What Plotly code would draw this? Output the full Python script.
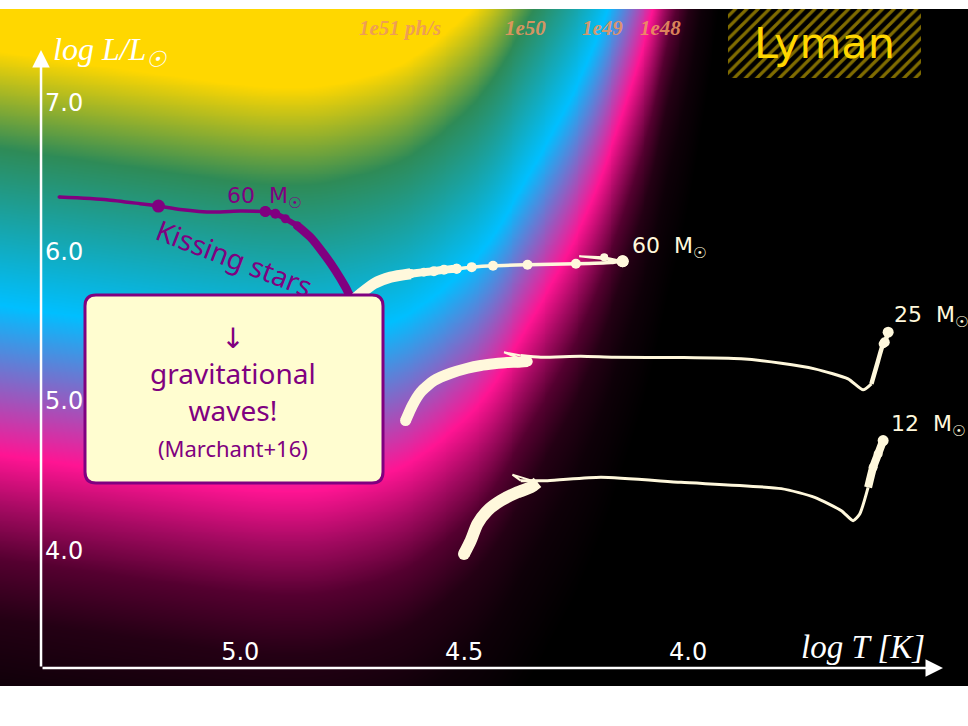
import numpy as np
import plotly.graph_objects as go

# ---------------------------------------------------------------------------
# Ionising (Lyman continuum) photon yield per unit luminosity vs. temperature
# log Q = log L/Lsun + log q(T)
ion_logT = [3.30, 3.80, 4.00, 4.05, 4.09, 4.19, 4.26, 4.36, 4.45, 4.55, 4.65, 4.80, 4.90, 5.00, 5.20, 5.60]
ion_logq = [33.5, 35.8, 39.3, 39.95, 40.5, 41.45, 41.95, 42.5, 42.95, 43.25, 43.45, 43.58, 43.60, 43.58, 43.50, 43.33]

# Evolutionary tracks (log T_eff [K], log L/Lsun)
# chemically homogeneous 60 Msun ("kissing stars")
chem60_logT = [5.4043, 5.2982, 5.2237, 5.1828, 5.1342, 5.0597, 5.0000, 4.9441, 4.9217,
               4.8993, 4.8732, 4.8434, 4.8136, 4.7875, 4.7651, 4.7577, 4.7494]
chem60_logL = [6.3653, 6.3479, 6.3210, 6.3050, 6.2828, 6.2647, 6.2714, 6.2694, 6.2540,
               6.2205, 6.1756, 6.0972, 5.9859, 5.8740, 5.7621, 5.7178, 5.6729]

# normal 60 Msun
n60_logT = [4.7494, 4.7315, 4.7018, 4.6644, 4.6197, 4.5899, 4.5676, 4.5452, 4.5168, 4.4832,
            4.4356, 4.3586, 4.2506, 4.1723, 4.1461, 4.1873, 4.2432, 4.1946, 4.1499]
n60_logL = [5.6729, 5.7178, 5.7849, 5.8291, 5.8519, 5.8626, 5.8693, 5.8787, 5.8854, 5.8961,
            5.9055, 5.9122, 5.9189, 5.9276, 5.9363, 5.9632, 5.9698, 5.9524, 5.9310]

# 25 Msun
n25_logT = [4.6309, 4.6159, 4.5973, 4.5676, 4.5302, 4.4928, 4.4631, 4.4333, 4.4034, 4.3810,
            4.3586, 4.3848, 4.4110, 4.3736, 4.3289, 4.2394, 4.1655, 4.0157, 3.8814, 3.7919,
            3.7174, 3.6427, 3.6091, 3.5906, 3.5756, 3.5644, 3.5608, 3.5532]
n25_logL = [4.8686, 4.9692, 5.0583, 5.1367, 5.1857, 5.2192, 5.2373, 5.2487, 5.2574, 5.2594,
            5.2641, 5.2943, 5.3264, 5.3043, 5.2929, 5.2996, 5.2929, 5.2909, 5.2822, 5.2527,
            5.2151, 5.1481, 5.0744, 5.1146, 5.2708, 5.3827, 5.3934, 5.4604]

# 12 Msun
n12_logT = [4.5004, 4.4855, 4.4705, 4.4481, 4.4183, 4.3810, 4.3512, 4.3362, 4.3922, 4.3736,
            4.3139, 4.1946, 4.0157, 3.7919, 3.7174, 3.6577, 3.6315, 3.6167, 3.5980, 3.5868,
            3.5756, 3.5644]
n12_logL = [3.9752, 4.0643, 4.1763, 4.2654, 4.3324, 4.3881, 4.4216, 4.4551, 4.5067, 4.4665,
            4.4665, 4.4886, 4.4551, 4.4129, 4.3546, 4.2654, 4.1984, 4.2433, 4.4216, 4.5556,
            4.6454, 4.7346]

x_ticks = [5.0, 4.5, 4.0]
y_ticks = [4.0, 5.0, 6.0, 7.0]
rate_labels = ["1e51 ph/s", "1e50", "1e49", "1e48"]

# ---------------------------------------------------------------------------
PURPLE = "#800080"
CREAM = "#fff8dc"
GOLD = "#ffd700"
LABEL_ORANGE = "rgba(236,150,96,0.9)"

X_RANGE = [5.5366, 3.3749]
Y_RANGE = [3.0913, 7.6248]


def smooth_curve(xk, yk, x):
    """Cubic Hermite curve through the anchor points (Catmull-Rom slopes)."""
    xk = np.asarray(xk, float)
    yk = np.asarray(yk, float)
    m = np.empty_like(yk)
    m[1:-1] = (yk[2:] - yk[:-2]) / (xk[2:] - xk[:-2])
    m[0] = (yk[1] - yk[0]) / (xk[1] - xk[0])
    m[-1] = (yk[-1] - yk[-2]) / (xk[-1] - xk[-2])
    i = np.clip(np.searchsorted(xk, x) - 1, 0, len(xk) - 2)
    h = xk[i + 1] - xk[i]
    t = (x - xk[i]) / h
    h00 = 2 * t**3 - 3 * t**2 + 1
    h10 = t**3 - 2 * t**2 + t
    h01 = -2 * t**3 + 3 * t**2
    h11 = t**3 - t**2
    return h00 * yk[i] + h10 * h * m[i] + h01 * yk[i + 1] + h11 * h * m[i + 1]


# photon-rate field on a grid covering the whole panel
grid_T = np.linspace(3.33, 5.58, 520)
grid_L = np.linspace(3.05, 7.66, 380)
logq = smooth_curve(ion_logT, ion_logq, grid_T)
logQ = grid_L[:, None] + logq[None, :]

z_lo, z_hi = 45.6, 50.7
stops = [(45.6, "rgb(0,0,0)"), (46.4, "rgb(14,0,8)"), (46.9, "rgb(36,0,20)"),
         (47.3, "rgb(85,0,48)"), (47.65, "rgb(165,10,98)"), (48.0, "rgb(255,20,147)"),
         (49.0, "rgb(0,191,255)"), (50.05, "rgb(46,139,87)"), (50.7, "rgb(255,215,0)")]
colorscale = [[(v - z_lo) / (z_hi - z_lo), c] for v, c in stops]

fig = go.Figure()
fig.add_trace(go.Heatmap(x=grid_T, y=grid_L, z=logQ, colorscale=colorscale,
                         zmin=z_lo, zmax=z_hi, zsmooth="best", showscale=False,
                         hoverinfo="skip"))


def add_track(xs, ys, color, width, sizes, smooth=True):
    fig.add_trace(go.Scatter(
        x=xs, y=ys, mode="lines+markers",
        line=dict(color=color, width=width, shape="spline" if smooth else "linear",
                  smoothing=0.6),
        marker=dict(color=color, size=sizes, opacity=1, line=dict(width=0, color=color)),
        hoverinfo="skip", showlegend=False))


# kissing stars track: line gets thicker as it evolves
chem_sizes = [3.5, 0, 0, 13, 0, 0, 0, 11, 10, 9, 8, 0, 0, 0, 0, 0, 0]
for a, b, w in [(0, 8, 3.5), (7, 11, 5.5), (10, 17, 8.5)]:
    add_track(chem60_logT[a:b], chem60_logL[a:b], PURPLE, w, chem_sizes[a:b])

# normal 60 Msun
n60_sizes = [11, 0, 0, 0, 9, 9, 10, 10, 10, 10, 10, 10, 10, 0, 12, 8, 0, 0, 0]
for a, b, w, s in [(0, 5, 11, True), (4, 9, 8, True), (8, 15, 3.5, True), (14, 19, 2, False)]:
    add_track(n60_logT[a:b], n60_logL[a:b], CREAM, w, n60_sizes[a:b], s)

# 25 Msun
n25_sizes = [11] + [0] * 5 + [9, 9, 10, 10, 10] + [0] * 14 + [9, 10, 11]
for a, b, w, s in [(0, 11, 11, True), (10, 14, 2, False), (13, 24, 3, True), (23, 28, 4.5, True)]:
    add_track(n25_logT[a:b], n25_logL[a:b], CREAM, w, n25_sizes[a:b], s)

# 12 Msun
n12_sizes = [12] + [0] * 18 + [9, 9, 11]
for a, b, w, s in [(0, 8, 12, True), (7, 10, 2, False), (9, 19, 3, True), (18, 22, 8, True)]:
    add_track(n12_logT[a:b], n12_logL[a:b], CREAM, w, n12_sizes[a:b], s)

# hatched "Lyman" panel
fig.add_trace(go.Scatter(
    x=[3.9109, 3.4799, 3.4799, 3.9109, 3.9109], y=[7.6248, 7.6248, 7.1627, 7.1627, 7.6248],
    mode="lines", fill="toself", line=dict(width=0), fillcolor="black",
    fillpattern=dict(shape="/", fgcolor=GOLD, bgcolor="black", size=8, solidity=0.4),
    hoverinfo="skip", showlegend=False))

ann = []
sans = "DejaVu Sans"
label_font = "Noto Sans, DejaVu Sans"

# axis arrows
ann.append(dict(x=5.445, y=7.35, ax=5.445, ay=3.2118, xref="x", yref="y", axref="x", ayref="y",
                text="", showarrow=True, arrowhead=2, arrowsize=1.4, arrowwidth=2.5,
                arrowcolor="white", standoff=0))
ann.append(dict(x=3.4308, y=3.2118, ax=5.445, ay=3.2118, xref="x", yref="y", axref="x", ayref="y",
                text="", showarrow=True, arrowhead=2, arrowsize=1.4, arrowwidth=2.5,
                arrowcolor="white", standoff=0))

# axis titles
ann.append(dict(x=5.423, y=7.34, xref="x", yref="y", xanchor="left", yanchor="middle",
                text="log L/L<sub>☉</sub>", showarrow=False,
                font=dict(family="Liberation Serif", size=32, color="white", style="italic")))
ann.append(dict(x=3.4665, y=3.355, xref="x", yref="y", xanchor="right", yanchor="middle",
                text="log T [K]", showarrow=False,
                font=dict(family="Liberation Serif", size=33, color="white", style="italic")))

# photon-rate level labels along the top
for lbl, lx in zip(rate_labels, [4.6431, 4.3640, 4.1920, 4.0625]):
    ann.append(dict(x=lx, y=7.50, xref="x", yref="y", text=lbl, showarrow=False,
                    font=dict(family="Liberation Serif", size=21, color=LABEL_ORANGE,
                              style="italic", weight="bold")))

# Lyman
ann.append(dict(x=3.6955, y=7.40, xref="x", yref="y", text="Lyman", showarrow=False,
                font=dict(family=sans, size=43, color=GOLD)))

# mass labels
msun = "\u00a0\u00a0M<sub>☉</sub>"
ann.append(dict(x=5.0331, y=6.365, xref="x", yref="y", xanchor="left", yanchor="middle",
                text="60" + msun, showarrow=False, font=dict(family=sans, size=22, color=PURPLE)))
for txt, lx, ly in [("60", 4.1298, 6.03), ("25", 3.5440, 5.565), ("12", 3.5505, 4.835)]:
    ann.append(dict(x=lx, y=ly, xref="x", yref="y", xanchor="left", yanchor="middle",
                    text=txt + msun, showarrow=False,
                    font=dict(family=sans, size=22, color=CREAM)))

# "Kissing stars" along the curved track
ann.append(dict(x=5.012, y=5.955, xref="x", yref="y", text="Kissing stars", textangle=21,
                showarrow=False, font=dict(family=label_font, size=28, color=PURPLE)))

# rounded note box
x0, x1 = 85 / 968, 383 / 968
yt, yb = (686 - 295) / 677, (686 - 483) / 677
rx, ry = 11 / 968, 11 / 677
box_path = (f"M {x0+rx},{yt} L {x1-rx},{yt} Q {x1},{yt} {x1},{yt-ry} "
            f"L {x1},{yb+ry} Q {x1},{yb} {x1-rx},{yb} L {x0+rx},{yb} "
            f"Q {x0},{yb} {x0},{yb+ry} L {x0},{yt-ry} Q {x0},{yt} {x0+rx},{yt} Z")
shapes = [dict(type="path", path=box_path, xref="paper", yref="paper",
               fillcolor="#fffdd0", line=dict(color=PURPLE, width=3), layer="above")]

note_text = ("↓<br>gravitational<br>waves!<br>"
             "<span style='font-size:22px'>(Marchant+16)</span>")
ann.append(dict(x=233 / 968, y=(686 - 390) / 677, xref="paper", yref="paper", text=note_text,
                xanchor="center", yanchor="middle", align="center",
                showarrow=False, font=dict(family=label_font, size=28, color=PURPLE)))

fig.update_layout(
    width=968, height=726,
    margin=dict(l=0, r=0, t=9, b=40),
    paper_bgcolor="white", plot_bgcolor="black",
    showlegend=False,
    xaxis=dict(range=X_RANGE, anchor="free", position=(686 - 668) / 677,
               showgrid=False, zeroline=False, showline=False, ticks="",
               tickvals=x_ticks, ticktext=[f"{v:.1f}" for v in x_ticks],
               ticklabelposition="inside", tickfont=dict(family=sans, size=24, color="white")),
    yaxis=dict(range=Y_RANGE, anchor="free", position=41 / 968,
               showgrid=False, zeroline=False, showline=False, ticks="",
               tickvals=y_ticks, ticktext=[f"{v:.1f}" for v in y_ticks],
               ticklabelposition="inside", tickfont=dict(family=sans, size=24, color="white")),
    annotations=ann,
    shapes=shapes,
)

fig.write_html("out.html")
